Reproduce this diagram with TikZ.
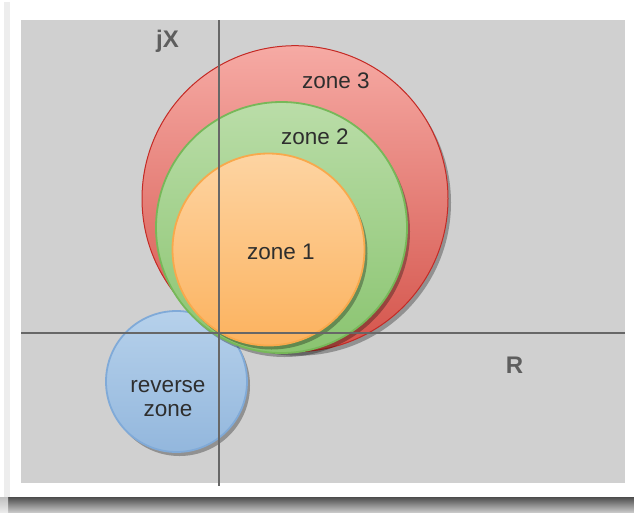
\documentclass[tikz,border=0pt]{standalone}
\usepackage{fontspec}
\setmainfont{Liberation Sans}
\usetikzlibrary{shadows}

\definecolor{panel}{HTML}{D0D0D0}
\definecolor{axisgray}{HTML}{676767}
\definecolor{labelgray}{HTML}{5E5E5E}
\definecolor{txt}{HTML}{2E2E2E}
\definecolor{redtop}{HTML}{F6AAA4}
\definecolor{redbot}{HTML}{D4544B}
\definecolor{redline}{HTML}{C42A25}
\definecolor{greentop}{HTML}{BADDA8}
\definecolor{greenbot}{HTML}{8AC470}
\definecolor{greenline}{HTML}{77B859}
\definecolor{orangetop}{HTML}{FDD4A2}
\definecolor{orangebot}{HTML}{FCB25E}
\definecolor{orangeline}{HTML}{F8A94C}
\definecolor{bluetop}{HTML}{B6D1EB}
\definecolor{bluebot}{HTML}{93B7DD}
\definecolor{blueline}{HTML}{80AAD8}

\tikzset{
  zonedisc/.style={circle, inner sep=0pt, line width=1.8pt,
    drop shadow={shadow xshift=3pt, shadow yshift=-4pt, opacity=0.3, fill=black}},
  zonetext/.style={text=txt, font=\fontsize{22.5}{24}\selectfont, align=center},
  axislabel/.style={text=labelgray, font=\fontsize{24}{26}\selectfont\bfseries, anchor=base},
  axisline/.style={draw=axisgray, line width=2.4pt}
}

\begin{document}
\begin{tikzpicture}[x=1pt, y=-1pt]
  \useasboundingbox (0,0) rectangle (634,512);

  % paper frame with its curled bottom shadow
  \fill[white] (0,0) rectangle (634,512);
  \fill[black!7] (4,2) rectangle (10,497);
  \shade[top color=black!70, bottom color=black!22] (8,497) rectangle (634,512);
  \shade[top color=black!25, bottom color=black!8] (0,497) rectangle (8,512);
  \fill[white] (10,4) rectangle (631,497);

  % grey plotting panel
  \fill[panel] (21,20) rectangle (625,483);

  % impedance zones
  \node[zonedisc, minimum size=141pt, draw=blueline, top color=bluetop, bottom color=bluebot]
    (rev) at (176.5,381.5) {};
  \node[zonedisc, minimum size=306pt, draw=redline, line width=1pt, top color=redtop, bottom color=redbot]
    (z3) at (295,198.7) {};
  \node[zonedisc, minimum size=251pt, draw=greenline, top color=greentop, bottom color=greenbot]
    (z2) at (281.5,227.5) {};
  \node[zonedisc, minimum size=192pt, draw=orangeline, top color=orangetop, bottom color=orangebot]
    (z1) at (268.5,249.5) {};

  % R and jX axes
  \coordinate (xl) at (21,333);
  \coordinate (xr) at (625,333);
  \coordinate (yt) at (219,20);
  \coordinate (yb) at (219,486);
  \draw[axisline] (xl) -- (xr);
  \draw[axisline] (yt) -- (yb);

  % labels
  \node[axislabel] (jx) at (167.5,47) {jX};
  \node[axislabel] (rl) at (514.5,373) {R};
  \node[zonetext] (t3) at (336,81) {zone 3};
  \node[zonetext] (t2) at (315,137) {zone 2};
  \node[zonetext] (t1) at (281,252) {zone 1};
  \node[zonetext] (tr) at (168,399) {reverse\\zone};
\end{tikzpicture}
\end{document}
